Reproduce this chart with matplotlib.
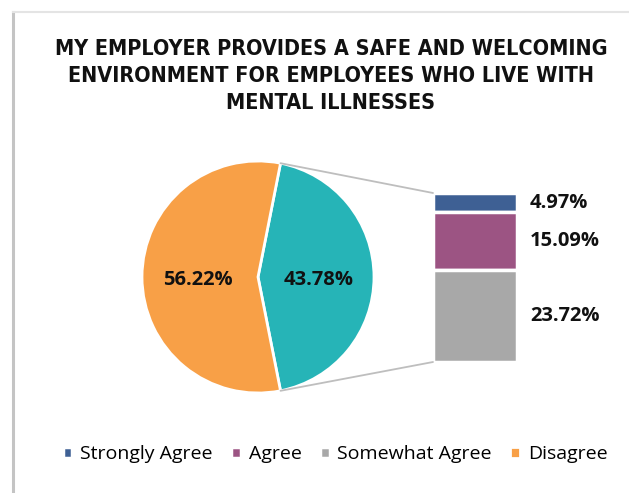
import matplotlib
matplotlib.use("Agg")
import matplotlib.pyplot as plt
from matplotlib.patches import ConnectionPatch
from matplotlib.lines import Line2D
import numpy as np

title = "MY EMPLOYER PROVIDES A SAFE AND WELCOMING\nENVIRONMENT FOR EMPLOYEES WHO LIVE WITH\nMENTAL ILLNESSES"
pie_labels = ["Agree (total)", "Disagree"]
pie_values = [43.78, 56.22]
pie_colors = ["#26B4B7", "#F8A047"]

bar_labels = ["Strongly Agree", "Agree", "Somewhat Agree"]
bar_values = [4.97, 15.09, 23.72]
bar_colors = ["#3E6094", "#9C5483", "#A8A8A8"]

W, H = 629, 493
fig = plt.figure(figsize=(W / 100, H / 100), dpi=100)
fig.patch.set_facecolor("white")

def fx(px):
    return px / W

def fy(py):
    return 1 - py / H

# chart box edges (shadowed border)
fig.add_artist(Line2D([fx(13), fx(13)], [fy(12), fy(493)], color="#C4C4C4", lw=2.2, transform=fig.transFigure))
fig.add_artist(Line2D([fx(13), fx(629)], [fy(12), fy(12)], color="#E4E4E4", lw=1.5, transform=fig.transFigure))

# Title
fig.text(fx(331), fy(76), title, ha="center", va="center", fontsize=15.5, fontweight="bold",
         family=["DejaVu Sans"], fontstretch="condensed", linespacing=1.42, color="#111111")

# Pie
cx, cy, r = 258, 277, 116
ax = fig.add_axes([fx(cx - r), fy(cy + r), fx(2 * r), (2 * r) / H])
half = pie_values[0] / 100 * 360 / 2
wedges, texts, autotexts = ax.pie(pie_values, colors=pie_colors, startangle=-half,
                                  autopct="%.2f%%", pctdistance=0.52,
                                  wedgeprops=dict(edgecolor="white", linewidth=2),
                                  textprops=dict(fontsize=14.5, fontweight="bold", color="#111111",
                                                 family=["Open Sans", "DejaVu Sans"]))
for t in autotexts:
    x, y = t.get_position()
    t.set_position((x, y - 0.03))
ax.set_xlim(-1, 1)
ax.set_ylim(-1, 1)
ax.set_aspect("auto")
ax.axis("off")

# Bar of pie
bx0, bx1, by0, by1 = 433, 517, 193, 362
ax2 = fig.add_axes([fx(bx0), fy(by1), fx(bx1 - bx0), (by1 - by0) / H])
total = sum(bar_values)
bottom = total
bars = []
for lab, v, c in zip(bar_labels, bar_values, bar_colors):
    bottom -= v
    b = ax2.bar([0], [v], bottom=bottom, width=1.0, color=c, edgecolor="white", linewidth=2.5,
                label=lab, clip_on=False)
    bars.append(b)
    ax2.text(0.5 + 13 / (bx1 - bx0), bottom + v / 2, f"{v:.2f}%", ha="left", va="center",
             fontsize=14.5, fontweight="bold", color="#111111", family=["Open Sans", "DejaVu Sans"])
ax2.set_xlim(-0.5, 0.5)
ax2.set_ylim(0, total)
ax2.axis("off")

# connector lines
ang = np.deg2rad(half)
for sgn, yb in [(1, total), (-1, 0)]:
    con = ConnectionPatch(xyA=(np.cos(ang), sgn * np.sin(ang)), coordsA=ax.transData,
                          xyB=(-0.5, yb), coordsB=ax2.transData, color="#BEBEBE", lw=1.3)
    fig.add_artist(con)

# legend
handles = [b.patches[0] for b in bars] + [wedges[1]]
labels = bar_labels + ["Disagree"]
fig.legend(handles, labels, loc="center", bbox_to_anchor=(fx(335), fy(454)), ncol=4, frameon=False,
           handlelength=0.5, handleheight=0.5, handletextpad=0.4, columnspacing=0.95,
           prop=dict(family=["Open Sans", "DejaVu Sans"], size=14))

fig.savefig("out.png", dpi=100, facecolor="white")
